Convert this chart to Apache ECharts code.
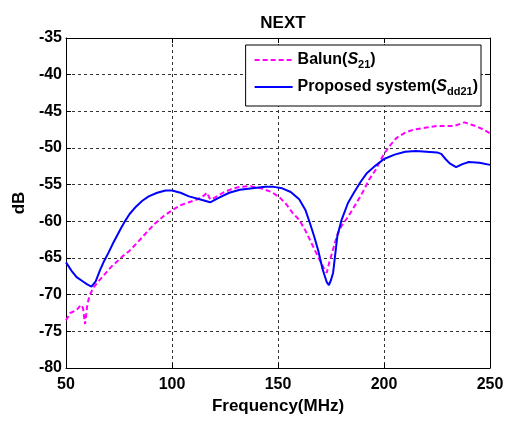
<!DOCTYPE html>
<html>
<head>
<meta charset="utf-8">
<script src="https://cdn.jsdelivr.net/npm/echarts@6/dist/echarts.min.js"></script>
<style>
  html, body { margin: 0; padding: 0; background: #fff; }
  #chart { width: 510px; height: 421px; }
</style>
</head>
<body>
<div id="chart"></div>
<script>
// Balun (S21), dashed magenta
var balunFreq = [50, 52, 55, 57, 58, 59, 60, 61, 63, 65, 68, 71, 74, 77, 80, 84, 88, 92, 96, 100,
  104, 108, 112, 115, 116.5, 118, 120, 124, 128, 132, 137, 142, 147, 151, 154, 157, 160, 163, 165, 167,
  169, 171, 172, 173, 174, 175, 176, 178, 180, 183, 187, 190, 193, 196, 200, 203, 206, 210, 214, 220,
  225, 230, 233, 236, 238, 241, 244, 247, 250];
var balunDb = [-73.5, -72.5, -72.1, -71.4, -71.8, -74, -71.5, -70.2, -69, -68.3, -67.3, -66.3, -65.5, -64.7, -64, -62.8, -61.5, -60.3, -59.3, -58.5,
  -57.8, -57.4, -57, -56.5, -56.1, -57, -56.8, -56.1, -55.6, -55.3, -55.2, -55.5, -56, -56.8, -57.7, -58.9, -59.8, -61.3, -62.5, -63.7,
  -64.9, -66, -66.7, -67, -65.8, -64.8, -63.8, -61.8, -60.6, -59.4, -57.5, -56, -54.3, -53, -50.8, -49.6, -48.6, -47.9, -47.5, -47.2,
  -47, -47, -47, -46.7, -46.5, -46.8, -47.1, -47.5, -48];

// Proposed system (Sdd21), solid blue
var propFreq = [50, 53, 55, 58, 60, 62, 64, 66, 68, 70, 72, 74, 76, 78, 80, 83, 86, 89, 93, 97,
  100, 104, 108, 113, 118, 122, 127, 132, 138, 144, 148, 152, 156, 160, 163, 165, 167, 169, 171, 173,
  174, 175, 176, 177, 178, 180, 183, 186, 189, 192, 196, 200, 205, 210, 215, 220, 225, 227, 229, 231,
  234, 237, 240, 245, 250];
var propDb = [-65.6, -66.9, -67.6, -68.2, -68.6, -68.9, -68.2, -66.7, -65.4, -64.3, -63.1, -62, -60.9, -59.9, -59, -58, -57.2, -56.6, -56.1, -55.8,
  -55.8, -56.1, -56.6, -57, -57.4, -56.8, -56.1, -55.7, -55.5, -55.3, -55.3, -55.5, -56, -57, -58.5, -60.2, -62, -64, -66.5, -68.3,
  -68.7, -68, -67, -64.5, -62, -59.8, -57.5, -56, -54.6, -53.4, -52.4, -51.5, -50.9, -50.5, -50.4, -50.5, -50.6, -50.8, -51.5, -52.1,
  -52.6, -52.2, -51.9, -52, -52.3];

function pairs(xs, ys) {
  return xs.map(function (x, i) { return [x, ys[i]]; });
}

var font = "Liberation Sans, Arial, sans-serif";
var gridLine = { show: true, lineStyle: { color: "#333", type: [3, 3], width: 1 } };
var frame = { show: true, lineStyle: { color: "#000", width: 1 } };
var tick = { show: true, inside: true, length: 5, lineStyle: { color: "#000" } };

var myChart = echarts.init(document.getElementById("chart"));
var option = {
  animation: false,
  backgroundColor: "#fff",
  title: {
    text: "NEXT",
    left: 278, top: 10, textAlign: "center",
    textStyle: { fontFamily: font, fontWeight: "bold", fontSize: 17, color: "#000" }
  },
  grid: { left: 66, right: 20, top: 38, bottom: 53, outerBoundsMode: "none", containLabel: false },
  legend: {
    right: 29, top: 45,
    orient: "vertical",
    backgroundColor: "#fff",
    borderColor: "#000", borderWidth: 1,
    padding: [5, 3, 9, 8],
    itemGap: 7,
    itemWidth: 38, itemHeight: 2,
    textStyle: {
      fontFamily: font, fontWeight: "bold", fontSize: 16, color: "#000", lineHeight: 20,
      rich: {
        s: { fontFamily: font, fontWeight: "bold", fontSize: 16, fontStyle: "italic", color: "#000", lineHeight: 20 },
        sub: { fontFamily: font, fontWeight: "bold", fontSize: 11, color: "#000", lineHeight: 20, padding: [9, 0, 0, 0] }
      }
    },
    formatter: function (name) {
      if (name === "Balun") return "Balun({s|S}{sub|21})";
      return "Proposed system({s|S}{sub|dd21})";
    },
    data: ["Balun", "Proposed"]
  },
  xAxis: [{
    type: "value", min: 50, max: 250, interval: 50,
    name: "Frequency(MHz)", nameLocation: "middle", nameGap: 24,
    nameTextStyle: { fontFamily: font, fontWeight: "bold", fontSize: 17, color: "#000" },
    axisLine: frame,
    axisTick: tick,
    axisLabel: { fontFamily: font, fontWeight: "bold", fontSize: 16, color: "#000", margin: 9 },
    splitLine: gridLine
  }, {
    type: "value", min: 50, max: 250, interval: 50, position: "top",
    axisLine: frame, axisTick: tick,
    axisLabel: { show: false }, splitLine: { show: false }
  }],
  yAxis: [{
    type: "value", min: -80, max: -35, interval: 5,
    name: "dB", nameLocation: "middle", nameGap: 38, nameRotate: 90,
    nameTextStyle: { fontFamily: font, fontWeight: "bold", fontSize: 17, color: "#000" },
    axisLine: frame,
    axisTick: tick,
    axisLabel: { fontFamily: font, fontWeight: "bold", fontSize: 16, color: "#000", margin: 4 },
    splitLine: gridLine
  }, {
    type: "value", min: -80, max: -35, interval: 5, position: "right",
    axisLine: frame, axisTick: tick,
    axisLabel: { show: false }, splitLine: { show: false }
  }],
  series: [{
    name: "Balun",
    type: "line",
    symbol: "none",
    data: pairs(balunFreq, balunDb),
    lineStyle: { color: "#ff00ff", width: 2, type: [5, 3] },
    itemStyle: { color: "#ff00ff" },
    z: 2
  }, {
    name: "Proposed",
    type: "line",
    symbol: "none",
    data: pairs(propFreq, propDb),
    lineStyle: { color: "#0000ff", width: 2 },
    itemStyle: { color: "#0000ff" },
    z: 3
  }]
};
myChart.setOption(option);
</script>
</body>
</html>
